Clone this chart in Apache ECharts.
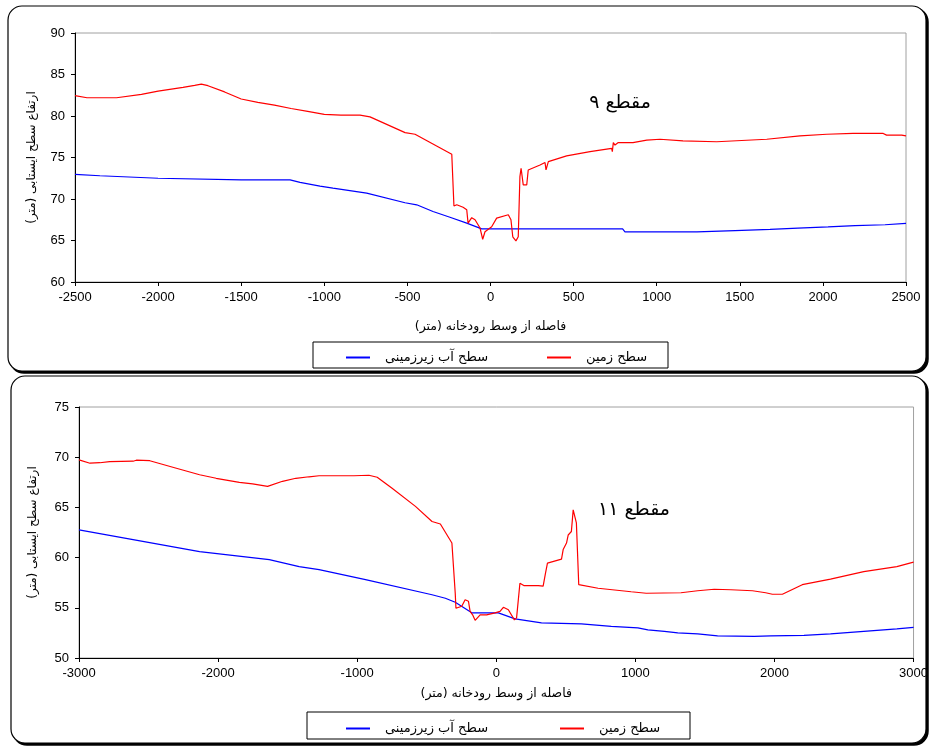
<!DOCTYPE html>
<html><head><meta charset="utf-8">
<script src="https://cdn.jsdelivr.net/npm/echarts@6/dist/echarts.min.js"></script>
<style>html,body{margin:0;padding:0;background:#fff}#c{width:931px;height:748px}</style>
</head><body><div id="c"></div>
<script>
// ---- Section 9 (top chart) ----
const s9GroundX = [-2500,-2428,-2350,-2250,-2100,-2000,-1850,-1780,-1740,-1700,-1600,-1500,-1400,-1300,-1200,-1100,-1000,-900,-785,-725,-514,-454,-233,-227,-220,-203,-165,-143,-135,-113,-93,-63,-47,-33,7,37,107,123,134,153,167,177,184,194,197,218,227,298,328,334,348,458,599,729,733,739,749,769,857,940,1020,1158,1361,1662,1862,2023,2181,2363,2383,2474,2500];
const s9GroundY = [82.45,82.2,82.2,82.2,82.6,83.0,83.45,83.7,83.85,83.65,82.9,82.05,81.65,81.3,80.9,80.55,80.2,80.1,80.1,79.9,78.0,77.8,75.4,75.3,69.15,69.3,69.0,68.7,67.1,67.75,67.5,66.5,65.15,66.05,66.65,67.7,68.1,67.5,65.45,64.95,65.45,72.7,73.7,73.7,71.7,71.7,73.5,74.1,74.4,73.5,74.5,75.2,75.7,76.1,75.7,76.8,76.5,76.8,76.8,77.1,77.2,77.0,76.9,77.2,77.6,77.8,77.9,77.9,77.7,77.7,77.6];
const s9WaterX = [-2500,-2350,-2000,-1500,-1206,-1146,-1026,-948,-745,-514,-444,-346,-244,-143,-53,795,809,1242,1250,1471,1480,1682,1690,1850,1860,2031,2040,2193,2200,2374,2380,2500];
const s9WaterY = [72.97,72.8,72.5,72.3,72.3,72.0,71.55,71.3,70.7,69.55,69.3,68.5,67.8,67.1,66.4,66.4,66.05,66.05,66.2,66.2,66.35,66.35,66.5,66.5,66.65,66.65,66.8,66.8,66.9,66.9,67.07,67.07];

// ---- Section 11 (bottom chart) ----
const s11GroundX = [-3000,-2921,-2850,-2780,-2611,-2588,-2491,-2300,-2133,-2014,-1847,-1752,-1644,-1537,-1441,-1346,-1274,-1023,-916,-856,-749,-581,-462,-402,-319,-295,-290,-248,-224,-200,-188,-170,-152,-116,-69,-57,-9,27,51,87,130,146,170,182,201,302,337,354,368,469,481,505,517,540,553,576,593,604,732,970,1078,1328,1448,1567,1687,1842,1937,1985,2057,2200,2403,2642,2880,3000];
const s11GroundY = [69.73,69.4,69.45,69.55,69.6,69.7,69.65,68.9,68.25,67.9,67.5,67.35,67.1,67.6,67.9,68.05,68.15,68.15,68.2,68.0,66.9,65.1,63.6,63.35,61.45,56.45,54.95,55.15,55.8,55.65,54.65,54.3,53.75,54.3,54.3,54.2,54.5,54.65,55.05,54.8,53.8,54.0,57.45,57.6,57.2,57.2,57.15,58.45,59.45,59.85,60.8,61.45,62.25,62.6,64.75,63.45,57.3,57.3,56.95,56.6,56.45,56.5,56.7,56.85,56.8,56.7,56.5,56.35,56.35,57.3,57.85,58.6,59.1,59.55];
const s11WaterX = [-3000,-2133,-1632,-1417,-1274,-940,-462,-366,-295,-176,15,135,325,612,827,1018,1090,1209,1305,1448,1591,1854,1973,2212,2403,2642,2880,3000];
const s11WaterY = [62.77,60.6,59.8,59.1,58.8,57.8,56.3,55.95,55.55,54.5,54.5,53.9,53.5,53.4,53.15,53.0,52.8,52.65,52.5,52.4,52.2,52.15,52.2,52.25,52.4,52.65,52.9,53.05];

const nameGround = 'سطح زمین';
const nameWater = 'سطح آب زیرزمینی';
const xTitle = 'فاصله از وسط رودخانه (متر)';
const yTitle = 'ارتفاع سطح ایستابی (متر)';
const label9 = 'مقطع ۹';
const label11 = 'مقطع ۱۱';

const zip = (xs, ys) => xs.map((x, i) => [x, ys[i]]);
const faFont = "'DejaVu Sans', 'Noto Sans', sans-serif";
const numFont = "'Liberation Sans', Arial, sans-serif";

function xAxisDef(gi, min, max, interval, gap) {
  return {
    type: 'value', gridIndex: gi, min: min, max: max, interval: interval,
    name: xTitle, nameLocation: 'middle', nameGap: gap,
    nameTextStyle: { fontFamily: faFont, fontSize: 12.5, color: '#000' },
    axisLine: { show: true, onZero: false, lineStyle: { color: '#000', width: 1 } },
    axisTick: { show: true, length: 4, lineStyle: { color: '#000' } },
    axisLabel: { fontFamily: numFont, fontSize: 13, color: '#000', margin: 9, formatter: v => String(v) },
    splitLine: { show: false }
  };
}
function yAxisDef(gi, min, max, gap) {
  return {
    type: 'value', gridIndex: gi, min: min, max: max, interval: 5,
    name: yTitle, nameLocation: 'middle', nameGap: gap, nameRotate: 90,
    nameTextStyle: { fontFamily: faFont, fontSize: 12, color: '#000' },
    axisLine: { show: true, onZero: false, lineStyle: { color: '#000', width: 1 } },
    axisTick: { show: true, length: 4, lineStyle: { color: '#000' } },
    axisLabel: { fontFamily: numFont, fontSize: 13, color: '#000', margin: 10, formatter: v => String(v) },
    splitLine: { show: false }
  };
}
function lineSeries(name, color, xi, data) {
  return {
    name: name, type: 'line', xAxisIndex: xi, yAxisIndex: xi, data: data,
    symbol: 'none', showSymbol: false, animation: false,
    lineStyle: { color: color, width: 1.2 }, itemStyle: { color: color }
  };
}
function legendDef(name, left, top) {
  return {
    data: [name], left: left, top: top, padding: 0, itemWidth: 24, itemHeight: 2, itemGap: 0,
    icon: 'rect',
    textStyle: { fontFamily: faFont, fontSize: 13, color: '#000', padding: [0, 0, 0, 10] },
    selectedMode: false
  };
}
function frame(x, y, w, h) {
  return [
    { type: 'rect', z: -20, silent: true, shape: { x: x + 2, y: y + 2, width: w, height: h, r: 14 },
      style: { fill: '#000', stroke: '#000', lineWidth: 1.5 } },
    { type: 'rect', z: -19, silent: true, shape: { x: x, y: y, width: w, height: h, r: 14 },
      style: { fill: '#fff', stroke: '#000', lineWidth: 1.2 } }
  ];
}

const chart = echarts.init(document.getElementById('c'), null, { renderer: 'canvas' });
chart.setOption({
  backgroundColor: '#fff',
  animation: false,
  grid: [
    { left: 75, top: 33, width: 831, height: 249, show: true, borderColor: '#a0a0a0', borderWidth: 1, backgroundColor: 'transparent' },
    { left: 79, top: 407, width: 838, height: 251, show: true, borderColor: '#a0a0a0', borderWidth: 1, backgroundColor: 'transparent' }
  ],
  xAxis: [xAxisDef(0, -2500, 2500, 500, 38), xAxisDef(1, -3000, 3000, 1000, 29)],
  yAxis: [yAxisDef(0, 60, 90, 37), yAxisDef(1, 50, 75, 40)],
  legend: [
    legendDef(nameWater, 346, 351),
    legendDef(nameGround, 547, 351),
    legendDef(nameWater, 346, 722),
    legendDef(nameGround, 560, 722)
  ],
  series: [
    lineSeries(nameWater, '#0000ff', 0, zip(s9WaterX, s9WaterY)),
    lineSeries(nameGround, '#ff0000', 0, zip(s9GroundX, s9GroundY)),
    lineSeries(nameWater, '#0000ff', 1, zip(s11WaterX, s11WaterY)),
    lineSeries(nameGround, '#ff0000', 1, zip(s11GroundX, s11GroundY))
  ],
  graphic: [
    ...frame(8, 6, 918, 365),
    ...frame(11, 376, 915, 367),
    { type: 'rect', silent: true, shape: { x: 313, y: 342, width: 355, height: 26 },
      style: { fill: 'none', stroke: '#000', lineWidth: 1 } },
    { type: 'rect', silent: true, shape: { x: 307, y: 712, width: 383, height: 27 },
      style: { fill: 'none', stroke: '#000', lineWidth: 1 } },
    { type: 'text', silent: true, x: 620, y: 103,
      style: { text: label9, fontFamily: faFont, fontSize: 19, fill: '#000', align: 'center', verticalAlign: 'middle' } },
    { type: 'text', silent: true, x: 634, y: 510,
      style: { text: label11, fontFamily: faFont, fontSize: 19, fill: '#000', align: 'center', verticalAlign: 'middle' } }
  ]
});
</script>
</body></html>
